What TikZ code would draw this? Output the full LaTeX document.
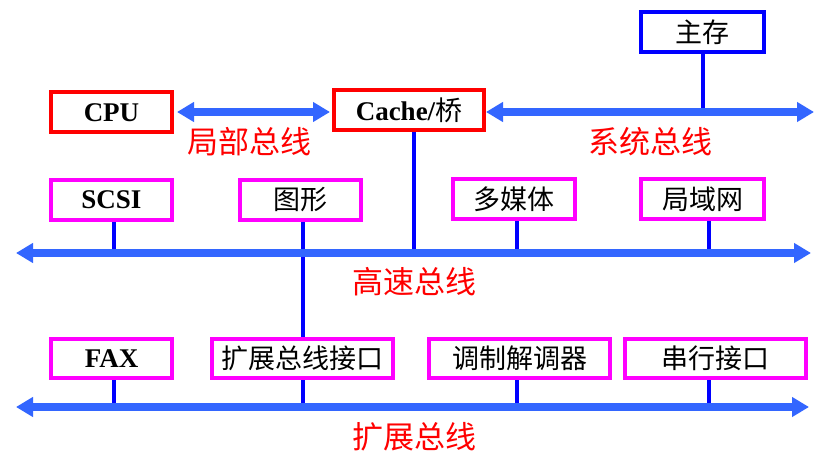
\documentclass[tikz,border=0pt]{standalone}
\usepackage{fontspec}
\setmainfont{Liberation Serif}
\newfontfamily\cjk{Noto Sans CJK SC}
\usetikzlibrary{arrows.meta,positioning}
\definecolor{busblue}{RGB}{51,102,255}
\definecolor{stubblue}{RGB}{0,0,255}
\definecolor{devpink}{RGB}{255,0,255}
\definecolor{cpured}{RGB}{255,0,0}
\begin{document}
\begin{tikzpicture}[x=1pt,y=-1pt]
    \tikzstyle{box}=[draw,line width=4pt,fill=white,inner sep=0pt,minimum height=40pt,
        font=\fontsize{27}{30}\selectfont]
    \tikzstyle{cpu box}=[box, draw=cpured];
    \tikzstyle{mem box}=[box, draw=stubblue];
    \tikzstyle{dev box}=[box, draw=devpink];
    \tikzstyle{bus}=[line width=8pt,busblue,{Triangle[length=17pt,width=19pt]}-{Triangle[length=17pt,width=19pt]}]
    \tikzstyle{stub}=[line width=4pt,stubblue]
    \tikzstyle{bus label}=[text=cpured,font=\fontsize{31}{34}\selectfont\cjk,inner sep=0pt]

    \fill[white] (0,0) rectangle (831,460);
    \useasboundingbox (0,0) rectangle (831,460);

    % Processor, bridge and memory
    \node[cpu box, minimum width=121pt] (CPU) at (111.5,112.5) {\bfseries CPU};
    \node[cpu box, minimum width=150pt] (C) at (409,110.5) {\bfseries Cache/{\mdseries\cjk 桥}};
    \node[mem box, minimum width=123pt] (M) at (702.5,32) {\cjk 主存};

    % Devices on the high speed bus
    \node[dev box, minimum width=121pt] (H-1) at (111.5,200) {\bfseries SCSI};
    \node[dev box, minimum width=121pt] (H-2) at (300.5,200) {\cjk 图形};
    \node[dev box, minimum width=122pt] (H-3) at (514,199) {\cjk 多媒体};
    \node[dev box, minimum width=123pt] (H-4) at (702.5,199) {\cjk 局域网};

    % Devices on the expansion bus
    \node[dev box, minimum width=121pt, minimum height=39pt] (E-1) at (111.5,358.5) {\bfseries FAX};
    \node[dev box, minimum width=181pt, minimum height=39pt] (E-2) at (302.5,358.5) {\cjk 扩展总线接口};
    \node[dev box, minimum width=181pt, minimum height=39pt] (E-3) at (519.5,358.5) {\cjk 调制解调器};
    \node[dev box, minimum width=181pt, minimum height=39pt] (E-4) at (715.5,358.5) {\cjk 串行接口};

    % Bus ends
    \coordinate (SB-R) at (814,112);
    \coordinate (HB-L) at (16,253);
    \coordinate (HB-R) at (811,253);
    \coordinate (EB-L) at (16,407);
    \coordinate (EB-R) at (809,407);

    % Stubs
    \draw[stub] (M.south) -- (M.south |- SB-R);
    \draw[stub] ([xshift=5pt]C.south) -- ([xshift=5pt]C.south |- HB-L);
    \draw[stub] ([xshift=2.5pt]H-1.south) -- ([xshift=2.5pt]H-1.south |- HB-L);
    \draw[stub] ([xshift=2.5pt]H-2.south) -- ([xshift=2.5pt]H-2.south |- E-2.north);
    \draw[stub] ([xshift=3pt]H-3.south) -- ([xshift=3pt]H-3.south |- HB-L);
    \draw[stub] ([xshift=6.5pt]H-4.south) -- ([xshift=6.5pt]H-4.south |- HB-L);
    \draw[stub] ([xshift=2.5pt]E-1.south) -- ([xshift=2.5pt]E-1.south |- EB-L);
    \draw[stub] (E-2.south) -- (E-2.south |- EB-L);
    \draw[stub] ([xshift=-2.5pt]E-3.south) -- ([xshift=-2.5pt]E-3.south |- EB-L);
    \draw[stub] ([xshift=-6.5pt]E-4.south) -- ([xshift=-6.5pt]E-4.south |- EB-L);

    % Buses
    \draw[bus, shorten <=3pt, shorten >=2pt] ([yshift=0.5pt]CPU.east) -- ([yshift=0.5pt]CPU.east -| C.west);
    \draw[bus] (C.east |- SB-R) -- (SB-R);
    \draw[bus] (HB-L) -- (HB-R);
    \draw[bus] (EB-L) -- (EB-R);

    % Bus labels
    \node[bus label] (lb) at (249,142) {局部总线};
    \node[bus label] (sb) at (650,142) {系统总线};
    \node[bus label] (hb) at (414,282) {高速总线};
    \node[bus label] (eb) at (414,437) {扩展总线};
\end{tikzpicture}
\end{document}
